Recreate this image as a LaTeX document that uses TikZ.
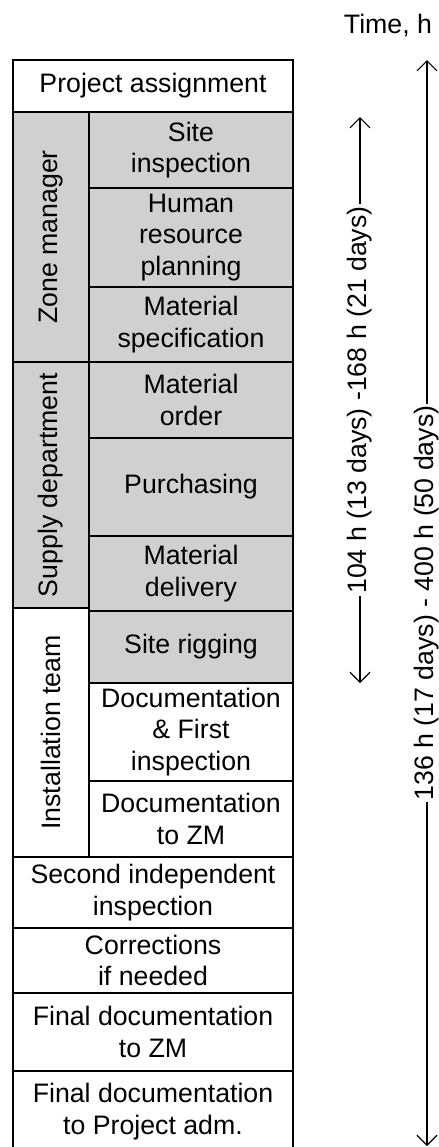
\documentclass[tikz,border=0pt]{standalone}
\usepackage{fontspec}
\setmainfont{Liberation Sans}
\usetikzlibrary{arrows.meta}
\definecolor{shade}{RGB}{208,208,208}
\tikzset{
  cellbox/.style={draw=black, line width=0.6pt, inner sep=0pt, outer sep=0pt,
    align=center, font=\fontsize{13.35pt}{15.7pt}\selectfont},
  timearrow/.style={line width=0.55pt, -{Straight Barb[length=5pt,width=10pt]}},
  spanlabel/.style={midway, rotate=90, fill=white, inner xsep=1pt, inner ysep=0pt,
    font=\fontsize{13.35pt}{15.7pt}\selectfont},
}
% cell: name, x1, y1, x2, y2, fill, text
\newcommand\cell[7]{%
  \node[cellbox, fill=#6, minimum width={(#4-#2)*0.5pt}, minimum height={(#5-#3)*0.5pt}]
    (#1) at ({(#2+#4)/2},{(#3+#5)/2}) {#7};}
% vertical (rotated) side cell
\newcommand\sidecell[7]{%
  \node[cellbox, rotate=90, fill=#6, minimum width={(#5-#3)*0.5pt}, minimum height={(#4-#2)*0.5pt}]
    (#1) at ({(#2+#4)/2},{(#3+#5)/2}) {#7};}
\begin{document}
\begin{tikzpicture}[x=0.5pt, y=-0.5pt]
\clip (0,0) rectangle (439,1147);
\fill[white] (0,0) rectangle (439,1147);

% process table
\cell{assign}{13}{60}{293}{112}{white}{Project assignment}
\sidecell{zm}{13}{112}{89}{362}{shade}{Zone manager}
\cell{insp}{89}{112}{293}{188}{shade}{Site\\inspection}
\cell{hr}{89}{188}{293}{287}{shade}{Human\\resource\\planning}
\cell{spec}{89}{287}{293}{362}{shade}{Material\\specification}
\sidecell{supply}{13}{362}{89}{608}{shade}{Supply department}
\cell{order}{89}{362}{293}{438}{shade}{Material\\order}
\cell{purch}{89}{438}{293}{536}{shade}{Purchasing}
\cell{deliv}{89}{536}{293}{611}{shade}{Material\\delivery}
\sidecell{team}{13}{608}{89}{857}{white}{Installation team}
\cell{rig}{89}{611}{293}{683}{shade}{Site rigging}
\cell{first}{89}{683}{293}{781}{white}{Documentation\\\& First\\inspection}
\cell{doczm}{89}{781}{293}{857}{white}{Documentation\\to ZM}
\cell{second}{13}{857}{293}{928}{white}{Second independent\\inspection}
\cell{corr}{13}{928}{293}{993}{white}{Corrections\\if needed}
\cell{finzm}{13}{993}{293}{1071}{white}{Final documentation\\to ZM}
\cell{finadm}{13}{1071}{293}{1152}{white}{Final documentation\\to Project adm.}

% time axis
\node[font=\fontsize{13.35pt}{15.7pt}\selectfont] (timelabel) at (388,26) {Time, h};

\coordinate (shortTop) at (360,117);
\coordinate (shortBot) at (360,683);
\coordinate (longTop) at (427,60);
\coordinate (longBot) at (427,1146);

\draw[timearrow, {Straight Barb[length=5pt,width=10pt]}-{Straight Barb[length=5pt,width=10pt]}]
  (shortBot) -- node[spanlabel] {104 h (13 days) -168 h (21 days)} (shortTop);
\draw[timearrow, {Straight Barb[length=5pt,width=10pt]}-{Straight Barb[length=5pt,width=10pt]}]
  (longBot) -- node[spanlabel] {136 h (17 days) - 400 h (50 days)} (longTop);
\end{tikzpicture}
\end{document}
